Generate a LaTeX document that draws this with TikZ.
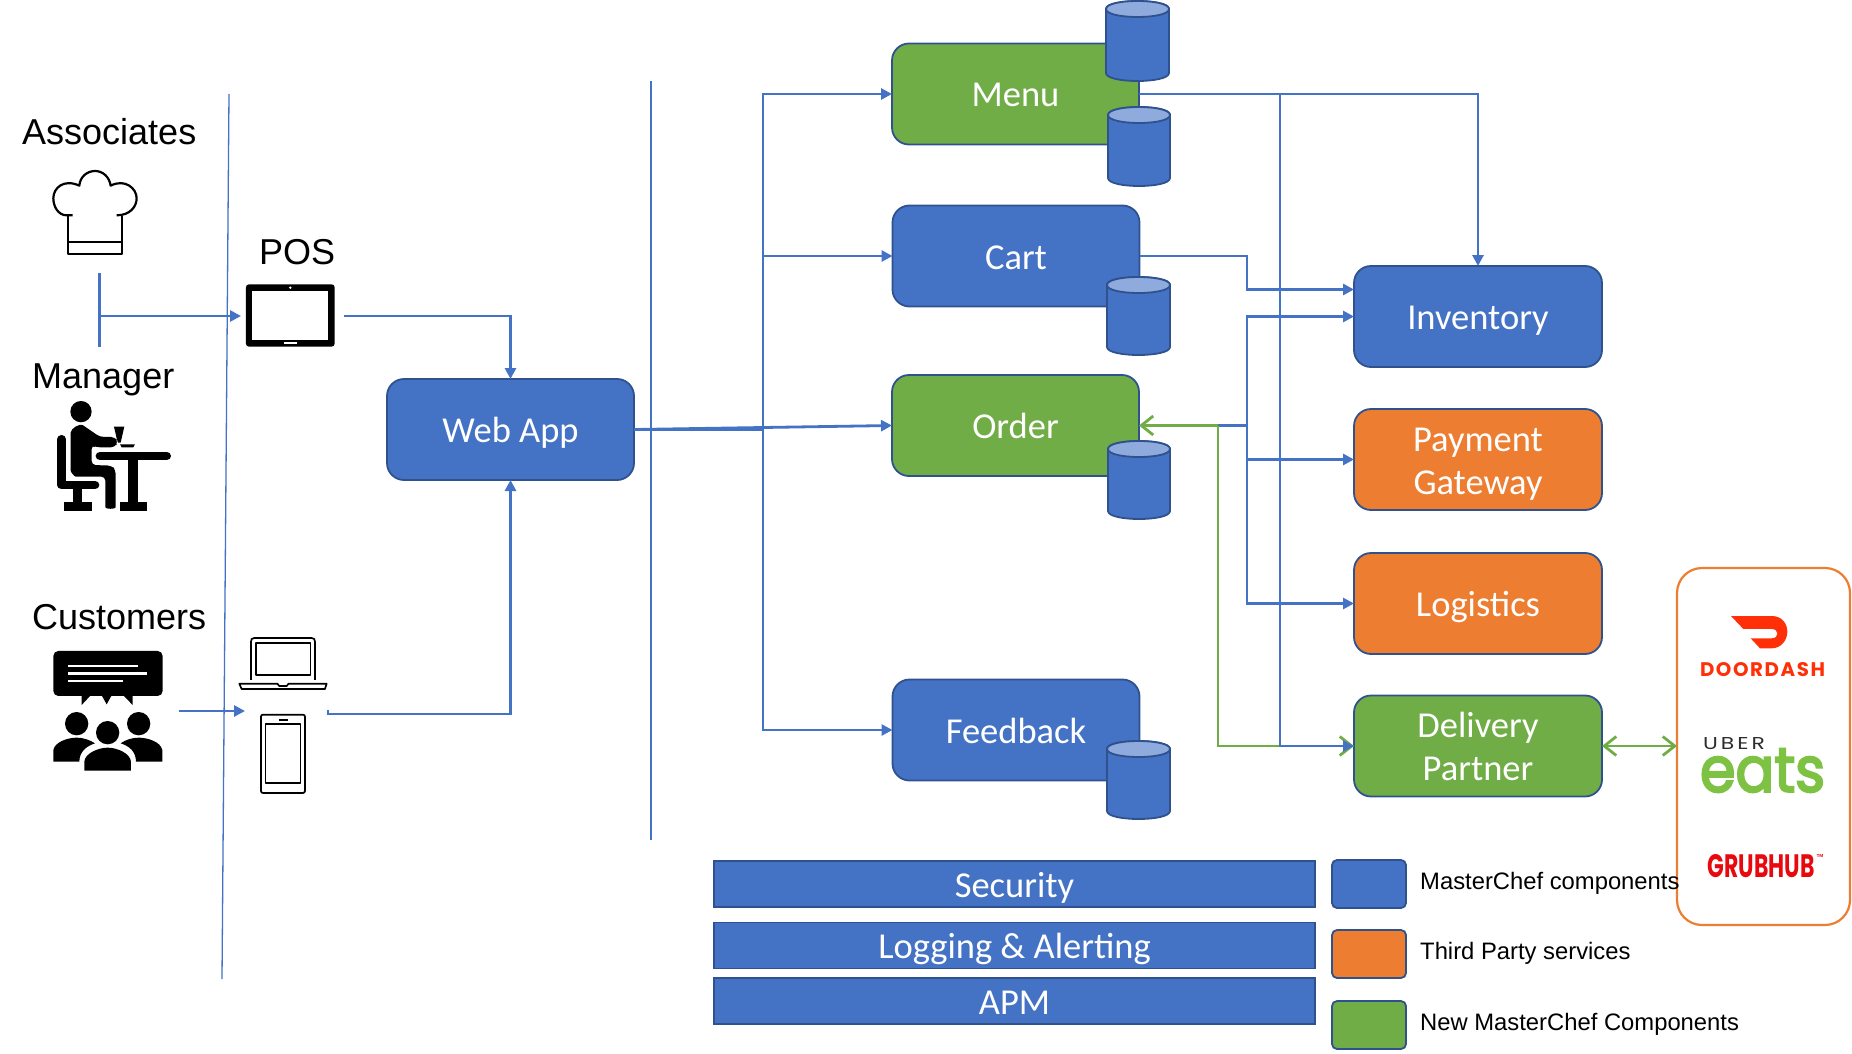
\documentclass[tikz,border=0pt]{standalone}
\usepackage{fontspec}
\usepackage{graphicx}
\setmainfont{Liberation Sans}
\newfontfamily\carl{Carlito}
\newfontfamily\pops{Poppins}
\usetikzlibrary{arrows.meta,calc}
\definecolor{mcblue}{HTML}{4472C4}
\definecolor{mcedge}{HTML}{2F528F}
\definecolor{mcgreen}{HTML}{70AD47}
\definecolor{mcorange}{HTML}{ED7D31}
\definecolor{mclight}{HTML}{8FAADC}
\definecolor{ddred}{HTML}{FF3008}
\definecolor{uegreen}{HTML}{7DC242}
\definecolor{uedark}{HTML}{2D2D2D}
\definecolor{ghred}{HTML}{E8090F}
\tikzset{
  svcbox/.style={draw=mcedge,line width=1.8pt,rounded corners=17pt,minimum width=#1,minimum height=101pt,outer sep=0pt,
     text=white,align=center,text height=26pt,text depth=0pt,font=\carl\fontsize{36.5}{43}\selectfont},
  svcbox/.default=247pt,
  twolines/.style={text height=69pt},
  barbox/.style={draw=mcedge,line width=1.2pt,fill=mcblue,minimum width=601pt,minimum height=46pt,outer sep=0pt,
     text=white,text height=26pt,text depth=0pt,font=\carl\fontsize{36.5}{43}\selectfont},
  swatch/.style={draw=mcedge,line width=1.8pt,rounded corners=5pt,minimum width=74pt,minimum height=48pt,outer sep=0pt},
  biglabel/.style={anchor=base west,inner sep=0pt,font=\fontsize{36}{42}\selectfont},
  leglabel/.style={anchor=west,inner sep=0pt,font=\fontsize{23.8}{28}\selectfont},
  conn/.style={draw=mcblue,line width=2.8pt,-{Triangle[length=11pt,width=11pt]}},
  plainconn/.style={draw=mcblue,line width=2.8pt},
  gconn/.style={draw=mcgreen,line width=2.8pt,-{Straight Barb[length=12pt,width=19pt,line width=2.8pt]}},
  gboth/.style={draw=mcgreen,line width=2.8pt,{Straight Barb[length=12pt,width=19pt,line width=2.8pt]}-{Straight Barb[length=12pt,width=19pt,line width=2.8pt]}},
  divider/.style={draw=mcblue,line width=1.3pt},
  iconline/.style={draw=black,line width=2.2pt,line join=round},
  thinicon/.style={draw=black,line width=1.7pt,line join=round},
  dbbody/.style={draw=mcedge,line width=1.8pt,fill=mcblue},
  dbtop/.style={draw=mcedge,line width=1.8pt,fill=mclight},
}
\newcommand{\dbcyl}[4]{%
  \path[dbbody] ({#1},{#3+8}) -- ({#1},{#4-8}) .. controls ({#1},{#4+2.67}) and ({#2},{#4+2.67}) .. ({#2},{#4-8}) -- ({#2},{#3+8}) .. controls ({#2},{#3-2.67}) and ({#1},{#3-2.67}) .. cycle;
  \path[dbtop] ({#1},{#3+8}) .. controls ({#1},{#3-2.67}) and ({#2},{#3-2.67}) .. ({#2},{#3+8}) .. controls ({#2},{#3+18.67}) and ({#1},{#3+18.67}) .. cycle;
}
\begin{document}
\begin{tikzpicture}[x=1pt,y=-1pt]
\useasboundingbox (0,0) rectangle (1852,1054);
% dividers
\coordinate (divAtop) at (229,94);
\coordinate (divAbot) at (222,979);
\coordinate (divBtop) at (651,81);
\coordinate (divBbot) at (651,840);
\draw[divider] (divAtop) -- (divAbot);
\draw[divider] (divBtop) -- (divBbot);
% service boxes
\node[svcbox,fill=mcblue] (webapp) at (510.5,429.5) {Web App};
\node[svcbox,fill=mcgreen] (menu) at (1015.5,94) {Menu};
\node[svcbox,fill=mcblue] (cart) at (1016,256) {Cart};
\node[svcbox,fill=mcgreen] (order) at (1015.5,425.5) {Order};
\node[svcbox,fill=mcblue] (feedback) at (1016,730) {Feedback};
\node[svcbox=248pt,fill=mcblue] (inventory) at (1478,316.5) {Inventory};
\node[svcbox=248pt,twolines,fill=mcorange] (payment) at (1478,459.5) {Payment\\Gateway};
\node[svcbox=248pt,fill=mcorange] (logistics) at (1478,603.5) {Logistics};
\node[svcbox=248pt,twolines,fill=mcgreen] (delivery) at (1478,746) {Delivery\\Partner};
% databases
\dbcyl{1106}{1169}{1}{81}
\dbcyl{1108}{1170}{107}{186}
\dbcyl{1107}{1170}{277}{355}
\dbcyl{1108}{1170}{441}{519}
\dbcyl{1107}{1170}{741}{819}
% partner container
\node[draw=mcorange,line width=2.2pt,rounded corners=25pt,minimum width=173pt,minimum height=357pt,outer sep=0pt] (partners) at (1763.5,746.5) {};
% actor labels
\node[biglabel] (lblassoc) at (22,144) {Associates};
\node[biglabel] (lblmanager) at (32,388) {Manager};
\node[biglabel] (lblcustomers) at (32,629) {Customers};
\node[biglabel] (lblpos) at (259,264) {POS};
% connectors
\coordinate (actorsTop) at (99.5,273);
\coordinate (actorsBot) at (99.5,347);
\coordinate (actorsMid) at (99.5,316);
\coordinate (posIn) at (241,316);
\coordinate (posOut) at (344,316);
\coordinate (custOut) at (179,711);
\coordinate (custIn) at (245,711);
\coordinate (devTick) at (328,710);
\coordinate (devOut) at (328,714);
\draw[plainconn] (actorsTop) -- (actorsBot);
\draw[conn] (actorsMid) -- (posIn);
\draw[conn] (posOut) -| (webapp.north);
\draw[conn] (custOut) -- (custIn);
\draw[conn] (devTick) -- (devOut) -| (webapp.south);
\coordinate (busA) at (763,0);
\draw[conn] (webapp.east) -- (order.west);
\draw[conn] (webapp.east) -- (busA |- webapp.east) |- (menu.west);
\draw[conn] (busA |- webapp.east) |- (cart.west);
\draw[conn] (busA |- webapp.east) |- (feedback.west);
\coordinate (busB) at (1247,0);
\coordinate (busC) at (1280,0);
\coordinate (busG) at (1218,0);
\draw[conn] (menu.east) -| (inventory.north);
\draw[conn] (cart.east) -- (busB |- cart.east) |- ([yshift=27pt]inventory.west);
\draw[plainconn] (busG |- order.east) -- (busB |- order.east);
\draw[conn] (busB |- order.east) |- (inventory.west);
\draw[conn] (busB |- order.east) |- (payment.west);
\draw[conn] (busB |- order.east) |- (logistics.west);
\draw[gconn] (busG |- order.east) -- (order.east);
\draw[gconn] (busG |- order.east) |- (delivery.west);
\draw[conn] (busC |- menu.east) |- (delivery.west);
\draw[gboth] (delivery.east) -- (partners.west |- delivery.east);
% cross-cutting bars
\node[barbox] (security) at (1014.5,884) {Security};
\node[barbox] (logging) at (1014.5,945.5) {Logging \& Alerting};
\node[barbox] (apm) at (1014.5,1001) {APM};
% legend
\node[swatch,fill=mcblue] (swblue) at (1369,884) {};
\node[swatch,fill=mcorange] (sworange) at (1369,954) {};
\node[swatch,fill=mcgreen] (swgreen) at (1369,1025) {};
\node[leglabel] (legblue) at (1420,883) {MasterChef components};
\node[leglabel] (legorange) at (1420,953) {Third Party services};
\node[leglabel] (leggreen) at (1420,1024) {New MasterChef Components};
% logos text
\node[inner sep=0pt] (ddtext) at (1762.5,669.5) {\color{ddred}\resizebox{125pt}{14pt}{\pops\addfontfeature{LetterSpace=8}\bfseries DOORDASH}};
\node[inner sep=0pt] (uber) at (1734,744) {\color{uedark}\resizebox{62pt}{12pt}{\pops\addfontfeature{LetterSpace=14} UBER}};
\node[inner sep=0pt] (eats) at (1762.5,770.5) {\color{uegreen}\resizebox{125pt}{43pt}{\pops\addfontfeature{FakeBold=3.5} eats}};
\node[inner sep=0pt] (grub) at (1761,866) {\color{ghred}\resizebox{107pt}{23pt}{\pops\bfseries GRUBHUB}};
\node[inner sep=0pt,font=\fontsize{6}{7}\selectfont] (tm) at (1820,856) {\color{ghred}\resizebox{7pt}{3pt}{\bfseries TM}};
% doordash mark
\begin{scope}[shift={(1660,560)},scale=0.3333]
\fill[ddred] (213,168) -- (335,168) .. controls (365,168) and (382,190) .. (382,215) .. controls (382,242) and (362,265) .. (335,265) -- (300,265) -- (272,235) -- (335,235) .. controls (358,235) and (358,207) .. (335,207) -- (250,207) -- cycle;
\end{scope}
% chef hat, tablet, manager
\begin{scope}[shift={(0,90)},scale=0.3333]
\draw[iconline] (218,376) -- (200,376) .. controls (175,376) and (160,350) .. (160,325) .. controls (160,295) and (190,265) .. (238,287) .. controls (240,260) and (262,243) .. (285,243) .. controls (308,243) and (328,260) .. (332,287) .. controls (375,265) and (410,295) .. (410,325) .. controls (410,350) and (390,376) .. (350,376);
\draw[iconline] (203,378) -- (203,493) -- (367,493) -- (367,378);
\draw[iconline] (203,455) -- (367,455);
% tablet
\fill[black,rounded corners=3pt] (738,583) rectangle (1004,770);
\fill[white] (757,602) rectangle (985,750);
\fill[white] (871,593) circle (4);
\fill[white] (852,757) rectangle (890,763);
% manager
\fill[black] (243,965) circle (32);
\draw[black,line width=8.7pt,line cap=round,line join=round] (185,1048) -- (185,1185) -- (285,1185);
\draw[black,line width=9.3pt] (233,1195) -- (233,1240);
\fill[black] (193,1235) rectangle (275,1262);
\fill[black,rounded corners=4pt] (212,1040) .. controls (212,1015) and (240,1000) .. (258,1012) -- (300,1041) -- (345,1041) -- (354,1056) -- (345,1072) -- (288,1072) -- (275,1065) -- (275,1125) -- (335,1127) -- (347,1140) -- (347,1240) .. controls (347,1258) and (316,1258) .. (316,1240) -- (316,1160) -- (240,1160) .. controls (222,1160) and (212,1145) .. (212,1130) -- cycle;
\draw[black,line width=8.7pt,line cap=round] (300,1098) -- (500,1098);
\fill[black] (385,1098) rectangle (415,1240);
\fill[black] (360,1235) rectangle (440,1262);
\fill[black] (342,1010) -- (373,1010) -- (365,1045) -- (362,1058) -- (354,1058) -- (350,1045) -- cycle;
\fill[black] (360,1063) -- (405,1063) -- (400,1072) -- (365,1072) -- cycle;
\end{scope}
% customers and devices
\begin{scope}[shift={(0,570)},scale=0.3333]
\fill[black,rounded corners=5pt] (160,243) rectangle (488,378);
\draw[white,line width=2.8pt] (205,288) -- (415,288);
\draw[white,line width=2.8pt] (205,310) -- (442,310);
\draw[white,line width=2.8pt] (205,333) -- (370,333);
\fill[black] (245,376) -- (245,405) -- (272,376) -- cycle;
\fill[black] (305,376) -- (320,403) -- (335,376) -- cycle;
\fill[black] (370,376) -- (398,405) -- (398,376) -- cycle;
\fill[black] (230,461) circle (35);
\fill[black] (416,461) circle (35);
\fill[black] (323,488) circle (35);
\fill[black] (160,575) -- (160,540) .. controls (165,515) and (205,503) .. (230,503) .. controls (250,503) and (270,510) .. (285,520) .. controls (260,528) and (238,545) .. (238,575) -- cycle;
\fill[black] (487,575) -- (487,540) .. controls (482,515) and (442,503) .. (416,503) .. controls (396,503) and (376,510) .. (362,520) .. controls (388,528) and (408,545) .. (408,575) -- cycle;
\fill[black] (253,602) -- (253,575) .. controls (255,550) and (295,533) .. (323,533) .. controls (351,533) and (391,550) .. (393,575) -- (393,602) -- cycle;
% laptop
\draw[thinicon] (753,330) -- (753,215) .. controls (753,208) and (756,204) .. (763,204) -- (935,204) .. controls (942,204) and (945,208) .. (945,215) -- (945,330);
\draw[thinicon] (769,218) rectangle (932,316);
\draw[thinicon] (718,341) -- (832,341) -- (838,348) -- (860,348) -- (866,341) -- (980,341) -- (975,357) -- (725,357) -- cycle;
% phone
\draw[thinicon,rounded corners=2pt] (783,434) rectangle (915,669);
\draw[thinicon] (797,463) rectangle (902,640);
\draw[black,line width=1.8pt] (836,450) -- (864,450);
\end{scope}
\end{tikzpicture}
\end{document}
